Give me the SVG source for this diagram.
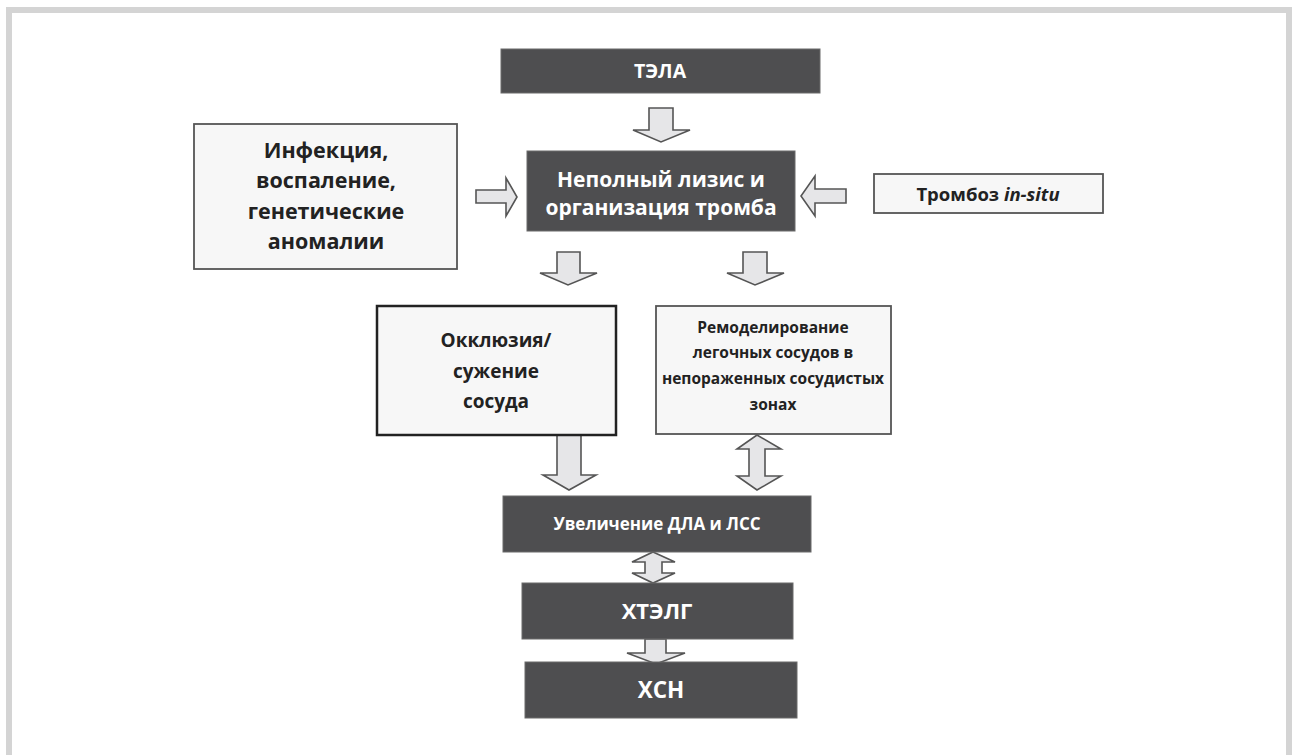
<svg xmlns="http://www.w3.org/2000/svg" width="1293" height="755" viewBox="0 0 1293 755">
<style>
.dark{fill:#4e4e50;stroke:#6a6a6a;stroke-width:1}
.light{fill:#f7f7f7;stroke:#555;stroke-width:1.8}
.bold{fill:#f7f7f7;stroke:#222;stroke-width:2.5}
.wt{font-family:"Open Sans","Liberation Sans",sans-serif;font-weight:bold;fill:#fff;text-anchor:middle}
.bt{font-family:"Open Sans","Liberation Sans",sans-serif;font-weight:bold;fill:#222;text-anchor:middle}
.arr{fill:#e6e6e8;stroke:#555;stroke-width:1.6;stroke-linejoin:miter}
</style>
<rect x="0" y="0" width="1293" height="755" fill="#fff"/>
<rect x="9" y="10" width="1280" height="800" fill="none" stroke="#d4d4d4" stroke-width="6"/>

<g id="connectors">
<path class="arr" d="M649,108 H673 V130 H690 L661,142 L633,130 H649 Z"/>
<path class="arr" d="M476,190 H506 V178 L517,197 L506,216 V203 H476 Z"/>
<path class="arr" d="M846,189 H815 V176 L801,196 L815,216 V203 H846 Z"/>
<path class="arr" d="M557,252 H580 V273 H597 L568,285 L540,273 H557 Z"/>
<path class="arr" d="M743,252 H767 V273 H784 L755,285 L727,273 H743 Z"/>
<path class="arr" d="M557,435 H581 V475 H596 L569,490 L543,475 H557 Z"/>
<path class="arr" d="M757,435 L781,449 H765 V476 H781 L757,490 L737,476 H749 V449 H737 Z"/>
<path class="arr" d="M653,552 L675,562 H662 V573 H675 L653,583 L632,573 H645 V562 H632 Z"/>
<path class="arr" d="M645,639 H666 V653 H685 L656,664 L627,653 H645 Z"/>
</g>

<g id="tela">
<rect class="dark" x="501" y="49" width="319" height="44"/>
<text class="wt" x="660" y="78" font-size="19.5">ТЭЛА</text>
</g>

<g id="lysis">
<rect class="dark" x="527" y="151" width="268" height="80"/>
<text class="wt" x="661" y="187" font-size="21">Неполный лизис и</text>
<text class="wt" x="661" y="215" font-size="21">организация тромба</text>
</g>

<g id="infection">
<rect class="light" x="194" y="124" width="263" height="145"/>
<text class="bt" x="326" y="158" font-size="21.5">Инфекция,</text>
<text class="bt" x="326" y="188" font-size="21.5">воспаление,</text>
<text class="bt" x="326" y="219" font-size="21.5">генетические</text>
<text class="bt" x="326" y="249" font-size="21.5">аномалии</text>
</g>

<g id="thrombosis">
<rect class="light" x="874" y="174" width="229" height="39"/>
<text class="bt" x="988" y="200.5" font-size="18.5">Тромбоз <tspan font-style="italic">in-situ</tspan></text>
</g>

<g id="occlusion">
<rect class="bold" x="377" y="306" width="239" height="129"/>
<text class="bt" x="496" y="347" font-size="19">Окклюзия/</text>
<text class="bt" x="496" y="378" font-size="19">сужение</text>
<text class="bt" x="496" y="408" font-size="19">сосуда</text>
</g>

<g id="remodeling">
<rect class="light" x="656" y="306" width="235" height="128"/>
<text class="bt" x="773" y="333" font-size="15.5">Ремоделирование</text>
<text class="bt" x="773" y="358" font-size="15.5">легочных сосудов в</text>
<text class="bt" x="773" y="384" font-size="15.5">непораженных сосудистых</text>
<text class="bt" x="773" y="410" font-size="15.5">зонах</text>
</g>

<g id="increase">
<rect class="dark" x="503" y="496" width="308" height="56"/>
<text class="wt" x="657" y="530" font-size="17">Увеличение ДЛА и ЛСС</text>
</g>

<g id="xtelg">
<rect class="dark" x="522" y="583" width="271" height="56"/>
<text class="wt" x="657" y="619" font-size="22">ХТЭЛГ</text>
</g>

<g id="xsn">
<rect class="dark" x="525" y="662" width="272" height="56"/>
<text class="wt" x="661" y="698" font-size="22.5">ХСН</text>
</g>
</svg>
